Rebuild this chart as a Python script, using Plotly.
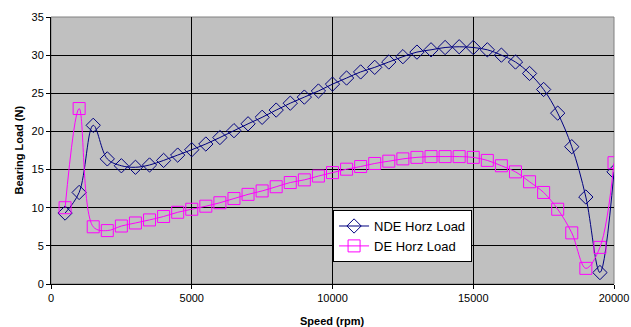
import plotly.graph_objects as go

# Shaft speed (rpm)
speed = [500, 1000, 1500, 2000, 2500, 3000, 3500, 4000, 4500, 5000,
         5500, 6000, 6500, 7000, 7500, 8000, 8500, 9000, 9500, 10000,
         10500, 11000, 11500, 12000, 12500, 13000, 13500, 14000, 14500, 15000,
         15500, 16000, 16500, 17000, 17500, 18000, 18500, 19000, 19500, 20000]

# Non-drive-end horizontal bearing load (N)
nde_horz = [9.3, 12.0, 20.8, 16.4, 15.5, 15.3, 15.6, 16.2, 16.9, 17.6,
            18.35, 19.2, 20.1, 21.0, 21.85, 22.8, 23.7, 24.5, 25.3, 26.2,
            27.0, 27.8, 28.4, 29.1, 29.8, 30.4, 30.7, 31.0, 31.1, 31.0,
            30.7, 30.0, 29.1, 27.6, 25.5, 22.4, 18.0, 11.4, 1.5, 14.7]

# Drive-end horizontal bearing load (N)
de_horz = [10.0, 23.0, 7.5, 7.0, 7.6, 8.0, 8.4, 8.85, 9.4, 9.8,
           10.2, 10.65, 11.2, 11.75, 12.2, 12.75, 13.3, 13.65, 14.15, 14.6,
           15.05, 15.4, 15.8, 16.1, 16.4, 16.6, 16.7, 16.7, 16.7, 16.6,
           16.2, 15.5, 14.7, 13.4, 12.0, 9.8, 6.7, 2.05, 4.8, 15.9]

x_ticks = [0, 5000, 10000, 15000, 20000]
y_ticks = [0, 5, 10, 15, 20, 25, 30, 35]

FONT = "Liberation Sans, Arial, sans-serif"

fig = go.Figure()
fig.add_trace(go.Scatter(
    x=speed, y=nde_horz, name="NDE Horz Load", mode="lines+markers",
    line=dict(color="#000080", width=1, shape="spline", smoothing=1.0),
    marker=dict(symbol="diamond-open", size=11, color="#000080",
                line=dict(color="#000080", width=1)),
))
fig.add_trace(go.Scatter(
    x=speed, y=de_horz, name="DE Horz Load", mode="lines+markers",
    line=dict(color="#FF00FF", width=1, shape="spline", smoothing=1.0),
    marker=dict(symbol="square-open", size=12, color="#FF00FF",
                line=dict(color="#FF00FF", width=1)),
))

axis_font = dict(family=FONT, size=11, color="#000000")

fig.update_layout(
    width=631, height=327,
    margin=dict(l=51, r=17, t=17, b=43),
    paper_bgcolor="white",
    plot_bgcolor="#C0C0C0",
    font=axis_font,
    showlegend=True,
    legend=dict(
        x=0.501, y=0.277, xanchor="left", yanchor="top",
        bgcolor="white", bordercolor="black", borderwidth=1,
        font=dict(family=FONT, size=13, color="#000000"),
        tracegroupgap=0, itemwidth=30,
    ),
    xaxis=dict(
        range=[0, 20000], tickvals=x_ticks, ticktext=[str(v) for v in x_ticks],
        showgrid=True, gridcolor="#000000", gridwidth=1,
        showline=True, linecolor="#000000", linewidth=1, mirror=False,
        ticks="outside", ticklen=4, tickcolor="#000000",
        zeroline=False, tickfont=axis_font, automargin=False,
    ),
    yaxis=dict(
        range=[0, 35], tickvals=y_ticks, ticktext=[str(v) for v in y_ticks],
        showgrid=True, gridcolor="#000000", gridwidth=1,
        showline=True, linecolor="#000000", linewidth=1, mirror=False,
        ticks="outside", ticklen=4, tickcolor="#000000",
        zeroline=False, tickfont=axis_font, automargin=False,
    ),
    shapes=[dict(type="rect", xref="paper", yref="paper", x0=0, y0=0, x1=1, y1=1,
                 line=dict(color="#808080", width=1), layer="below")],
    annotations=[
        dict(text="<b>Speed (rpm)</b>", xref="paper", yref="paper",
             x=0.5, y=0, yshift=-37, xanchor="center", yanchor="middle",
             showarrow=False, font=dict(family=FONT, size=11, color="#000000")),
        dict(text="<b>Bearing Load (N)</b>", xref="paper", yref="paper",
             x=0, y=0.5, xshift=-33, xanchor="center", yanchor="middle",
             textangle=-90, showarrow=False,
             font=dict(family=FONT, size=11, color="#000000")),
    ],
)

fig.write_html("out.html")
